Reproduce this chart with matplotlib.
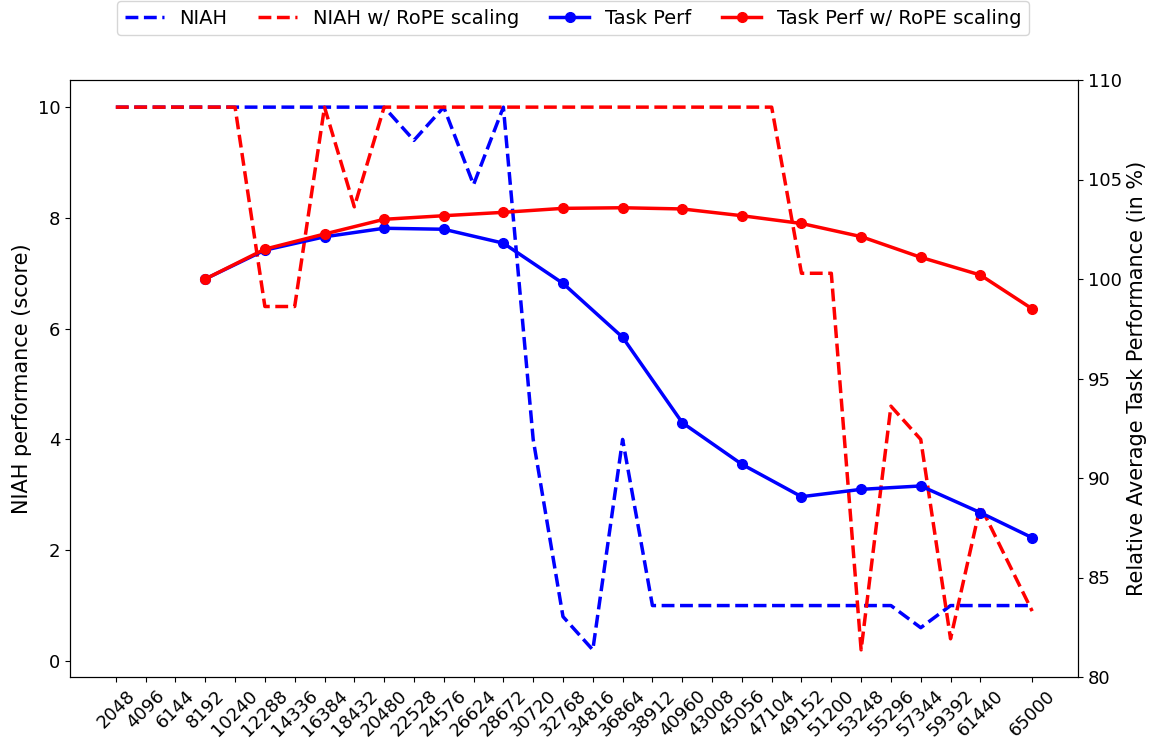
import matplotlib
matplotlib.use("Agg")
import matplotlib.pyplot as plt

context_lengths = [2048 * i for i in range(1, 31)] + [65000]

niah = [10, 10, 10, 10, 10, 10, 10, 10, 10, 10,
        9.4, 10, 8.6, 10, 4.0, 0.8, 0.2, 4.0, 1.0, 1.0,
        1.0, 1.0, 1.0, 1.0, 1.0, 1.0, 1.0, 0.6, 1.0, 1.0, 1.0]
niah_rope = [10, 10, 10, 10, 10, 6.4, 6.4, 10, 8.2, 10,
             10, 10, 10, 10, 10, 10, 10, 10, 10, 10,
             10, 10, 10, 7.0, 7.0, 0.2, 4.6, 4.0, 0.4, 2.8, 0.9]

perf_x = [8192, 12288, 16384, 20480, 24576, 28672, 32768, 36864,
          40960, 45056, 49152, 53248, 57344, 61440, 65000]
task_perf = [100.0, 101.45, 102.12, 102.55, 102.5, 101.8, 99.78, 97.07,
             92.78, 90.69, 89.06, 89.43, 89.6, 88.26, 87.0]
task_perf_rope = [100.0, 101.5, 102.26, 103.0, 103.18, 103.35, 103.55, 103.58,
                  103.52, 103.18, 102.79, 102.13, 101.09, 100.2, 98.5]

fig = plt.figure(figsize=(11.54, 7.42), dpi=100)
ax1 = fig.add_axes([70/1154, 1-677/742, (1078-70)/1154, (677-80)/742])
ax2 = ax1.twinx()

l1, = ax1.plot(context_lengths, niah, '--', color='blue', lw=2.5, label='NIAH')
l2, = ax1.plot(context_lengths, niah_rope, '--', color='red', lw=2.5, label='NIAH w/ RoPE scaling')
l3, = ax2.plot(perf_x, task_perf, '-o', color='blue', lw=2.5, ms=7, label='Task Perf')
l4, = ax2.plot(perf_x, task_perf_rope, '-o', color='red', lw=2.5, ms=7, label='Task Perf w/ RoPE scaling')

ax1.set_xticks(context_lengths)
ax1.set_xticklabels([str(c) for c in context_lengths], rotation=45, fontsize=13)
ax1.set_yticks([0, 2, 4, 6, 8, 10])
ax1.tick_params(axis='y', labelsize=13)
ax1.set_ylabel('NIAH performance (score)', fontsize=15)

ax2.set_ylim(80, 110)
ax2.set_yticks([80, 85, 90, 95, 100, 105, 110])
ax2.tick_params(axis='y', labelsize=13)
ax2.set_ylabel('Relative Average Task Performance (in %)', fontsize=15)

fig.legend(handles=[l1, l2, l3, l4], loc='upper center', ncol=4, fontsize=14,
           columnspacing=1.6, bbox_to_anchor=(573/1154, 1.012))

fig.savefig('out.png', dpi=100)
